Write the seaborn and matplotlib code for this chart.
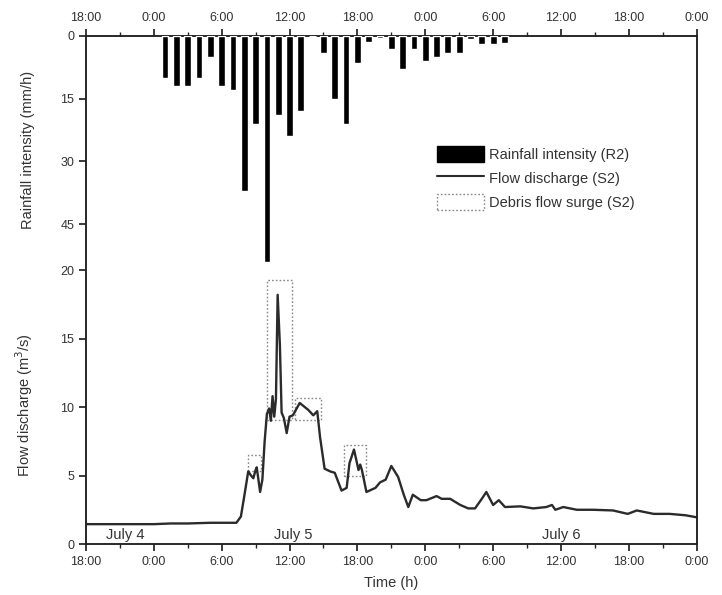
import numpy as np
import pandas as pd
import matplotlib.pyplot as plt
from matplotlib.patches import Rectangle
from matplotlib.lines import Line2D
from matplotlib.ticker import MultipleLocator, FuncFormatter
import seaborn as sns

sns.set_theme(style="ticks")
plt.rcParams["font.family"] = ["Liberation Sans", "DejaVu Sans"]

# --- data (hours counted from July 4, 0:00) ---
rain_hours = [25, 26, 27, 28, 29, 30, 31, 32, 33, 34, 35, 36, 37, 38, 39, 40,
              41, 42, 43, 44, 45, 46, 47, 48, 49, 50, 51, 52, 53, 54, 55]
rain_mm = [10, 12, 12, 10, 5, 12, 13, 37, 21, 54, 19, 24, 18, 0, 4, 15,
           21, 6.5, 1.5, 0.4, 3, 8, 3, 6, 5, 4, 4, 0.6, 2, 2, 1.6]

flow_hours = [18, 24, 25.5, 27, 29, 31.3, 31.7, 32.0, 32.35, 32.6, 32.8, 33.0,
              33.1, 33.4, 33.6, 33.8, 34.0, 34.2, 34.35, 34.5, 34.65, 34.8,
              34.95, 35.15, 35.3, 35.5, 35.75, 36.0, 36.3, 36.9, 37.65, 38.1,
              38.45, 38.7, 39.1, 39.6, 40.0, 40.6, 41.05, 41.3, 41.7, 42.1,
              42.25, 42.4, 42.8, 43.6, 44.0, 44.5, 45.0, 45.6, 46.1, 46.5,
              46.9, 47.6, 48.1, 49.0, 49.45, 50.2, 51.1, 51.8, 52.4, 53.0,
              53.4, 54.0, 54.5, 55.05, 56.4, 57.55, 58.7, 59.2, 59.5, 60.2,
              61.4, 62.85, 64.6, 65.9, 66.7, 68.2, 69.6, 71, 72]
flow_q = [1.45, 1.45, 1.5, 1.5, 1.55, 1.55, 2.0, 3.5, 5.3, 5.0, 4.8, 5.4,
          5.6, 3.8, 4.7, 7.5, 9.5, 9.9, 9.0, 10.8, 9.3, 10.6,
          18.2, 14.5, 9.6, 9.2, 8.1, 9.3, 9.4, 10.3, 9.8, 9.4,
          9.7, 7.8, 5.5, 5.3, 5.2, 3.9, 4.1, 5.9, 6.9, 5.4,
          5.8, 5.4, 3.8, 4.1, 4.5, 4.7, 5.7, 4.9, 3.6, 2.7,
          3.6, 3.2, 3.2, 3.5, 3.3, 3.3, 2.85, 2.6, 2.6, 3.3,
          3.8, 2.85, 3.2, 2.7, 2.75, 2.6, 2.7, 2.85, 2.5, 2.7,
          2.5, 2.5, 2.45, 2.2, 2.45, 2.2, 2.2, 2.1, 1.95]

surge_start = [32.3, 34.0, 36.5, 40.8]
surge_end = [33.45, 36.2, 38.75, 42.8]
surge_low = [5.3, 9.05, 9.05, 5.0]
surge_high = [6.5, 19.3, 10.65, 7.2]

date_labels = ["July 4", "July 5", "July 6"]
date_hours = [21.5, 36.3, 60.0]

rain_ticks = [0, 15, 30, 45]
flow_ticks = [0, 5, 10, 15, 20]

flow_df = pd.DataFrame({"hour": flow_hours, "q": flow_q})

text_col = "#333333"

# --- figure ---
fig = plt.figure(figsize=(7.22, 5.95), dpi=100)
ax = fig.add_axes([0.119, 0.0857, 0.846, 0.8538])

sns.lineplot(data=flow_df, x="hour", y="q", ax=ax, color="#2b2b2b",
             linewidth=1.7, estimator=None)

for x0, x1, lo, hi in zip(surge_start, surge_end, surge_low, surge_high):
    ax.add_patch(Rectangle((x0, lo), x1 - x0, hi - lo, fill=False,
                           edgecolor="#888888", linestyle=(0, (1.2, 1.5)),
                           linewidth=1.0, zorder=1))

for lab, h in zip(date_labels, date_hours):
    ax.text(h, 0.65, lab, ha="center", va="center", fontsize=10.5,
            color=text_col)

ax.set_xlim(18, 72)
ax.set_ylim(0, 37.1)
ax.set_yticks(flow_ticks)
ax.xaxis.set_major_locator(MultipleLocator(6))
ax.xaxis.set_minor_locator(MultipleLocator(3))
ax.xaxis.set_major_formatter(FuncFormatter(lambda v, p: f"{int(v) % 24}:00"))
ax.tick_params(axis="x", which="both", top=True, labeltop=True,
               direction="out", labelsize=9, colors="#222222",
               labelcolor=text_col)
ax.tick_params(axis="x", which="major", length=5)
ax.tick_params(axis="x", which="minor", length=3)
ax.tick_params(axis="y", direction="out", length=5, labelsize=9,
               colors="#222222", labelcolor=text_col)
ax.set_xlabel("Time (h)", fontsize=10.5, labelpad=6, color=text_col)
ax.set_ylabel("Flow discharge (m$^3$/s)", fontsize=10.5, color=text_col)
ax.yaxis.set_label_coords(-0.083, 0.274)

# rainfall on an inverted axis sharing x
ax_r = ax.twinx()
ax_r.bar(rain_hours, rain_mm, width=0.6, color="black", zorder=3)
ax_r.set_ylim(121.5, 0)
ax_r.set_yticks(rain_ticks)
ax_r.yaxis.tick_left()
ax_r.yaxis.set_label_position("left")
ax_r.tick_params(axis="y", direction="out", length=5, labelsize=9,
                 colors="#222222", labelcolor=text_col, right=False)
ax_r.set_ylabel("Rainfall intensity (mm/h)", fontsize=10.5, color=text_col)
ax_r.yaxis.set_label_coords(-0.083, 0.776)
ax_r.set_xlim(18, 72)

for a in (ax, ax_r):
    for s in a.spines.values():
        s.set_visible(True)
        s.set_linewidth(1.1)
        s.set_color("#222222")

handles = [
    Rectangle((0, 0), 1, 1, facecolor="black", edgecolor="black"),
    Line2D([0], [0], color="#2b2b2b", linewidth=1.5),
    Rectangle((0, 0), 1, 1, fill=False, edgecolor="#888888",
              linestyle=(0, (1.2, 1.5)), linewidth=1.0),
]
labels = ["Rainfall intensity (R2)", "Flow discharge (S2)",
          "Debris flow surge (S2)"]
leg = ax_r.legend(handles, labels, loc="upper left",
                  bbox_to_anchor=(0.565, 0.795), frameon=False, fontsize=10.5,
                  handlelength=3.2, handleheight=1.3, handletextpad=0.4,
                  labelspacing=0.55, borderaxespad=0)
for t in leg.get_texts():
    t.set_color(text_col)

fig.savefig("out.png", dpi=100)
